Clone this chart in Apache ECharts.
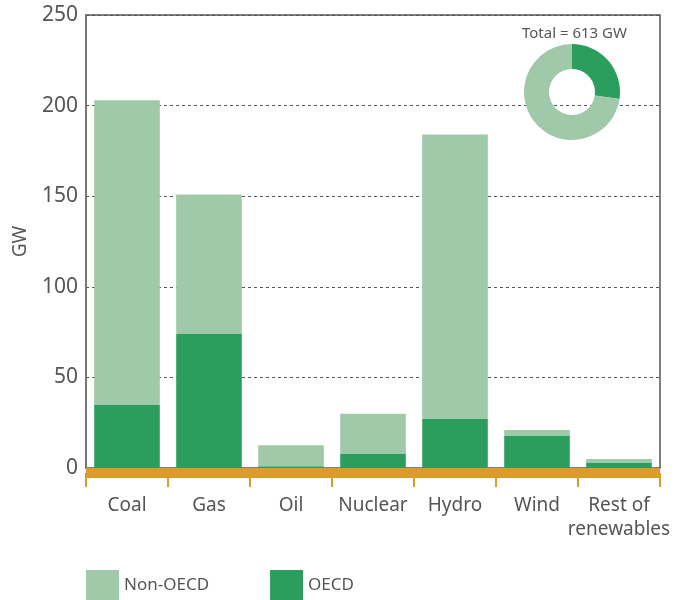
<!DOCTYPE html>
<html>
<head>
<meta charset="utf-8">
<script src="https://cdn.jsdelivr.net/npm/echarts@6/dist/echarts.min.js"></script>
<style>
  html, body { margin: 0; padding: 0; background: #fff; }
  #chart { width: 687px; height: 600px; }
</style>
</head>
<body>
<div id="chart"></div>
<script>
const categories = ['Coal', 'Gas', 'Oil', 'Nuclear', 'Hydro', 'Wind', 'Rest of\nrenewables']
const oecd = [35, 74, 1, 8, 27, 18, 3]
const totals = [203, 151, 12.5, 30, 184, 21, 5]
const nonOecd = totals.map((t, i) => t - oecd[i])
const yTicks = [0, 50, 100, 150, 200, 250]
const totalLabel = 'Total = 613 GW'

const lightGreen = '#9fc9a9'
const darkGreen = '#2b9e5d'
const orange = '#dc9c2b'
const textColor = '#555'
const font = 'Noto Sans'

const sum = arr => arr.reduce((a, b) => a + b, 0)

const chart = echarts.init(document.getElementById('chart'))

chart.setOption({
  animation: false,
  textStyle: { fontFamily: font },
  title: {
    text: totalLabel,
    left: 517,
    top: 21,
    textStyle: { fontSize: 15, fontWeight: 'normal', color: textColor, fontFamily: font }
  },
  legend: {
    data: ['Non-OECD', 'OECD'],
    left: 86,
    top: 570,
    padding: 0,
    icon: 'rect',
    itemWidth: 33,
    itemHeight: 30,
    itemGap: 61,
    textStyle: { fontSize: 17, color: textColor }
  },
  grid: {
    left: 86, right: 27, top: 15, bottom: 132,
    show: true,
    borderColor: '#555',
    borderWidth: 1.5
  },
  xAxis: {
    type: 'category',
    data: categories,
    offset: 5,
    axisLine: { onZero: false, lineStyle: { color: orange, width: 10, cap: 'butt' } },
    axisTick: { show: true, length: 14, lineStyle: { color: orange, width: 2 } },
    axisLabel: { fontSize: 19, color: textColor, margin: 21, lineHeight: 24, interval: 0 }
  },
  yAxis: {
    type: 'value',
    min: yTicks[0],
    max: yTicks[yTicks.length - 1],
    interval: 50,
    name: 'GW',
    nameLocation: 'middle',
    nameGap: 56,
    nameTextStyle: { fontSize: 19, color: textColor },
    axisLine: { show: true, lineStyle: { color: '#777', width: 2 } },
    axisTick: { show: false },
    axisLabel: { fontSize: 21, color: textColor, margin: 8 },
    splitLine: {
      show: true,
      lineStyle: { color: '#555', type: [3, 3], width: 1 }
    }
  },
  series: [
    {
      name: 'OECD',
      type: 'bar',
      stack: 'cap',
      data: oecd,
      barWidth: '80%',
      itemStyle: { color: darkGreen },
      z: 3
    },
    {
      name: 'Non-OECD',
      type: 'bar',
      stack: 'cap',
      data: nonOecd,
      barWidth: '80%',
      itemStyle: { color: lightGreen },
      z: 3
    },
    {
      name: 'share',
      type: 'pie',
      center: [572, 92],
      radius: [23, 48],
      startAngle: 90,
      clockwise: true,
      silent: true,
      label: { show: false },
      labelLine: { show: false },
      data: [
        { name: 'OECD', value: sum(oecd), itemStyle: { color: darkGreen } },
        { name: 'Non-OECD', value: sum(nonOecd), itemStyle: { color: lightGreen } }
      ],
      z: 5
    }
  ]
})
</script>
</body>
</html>
